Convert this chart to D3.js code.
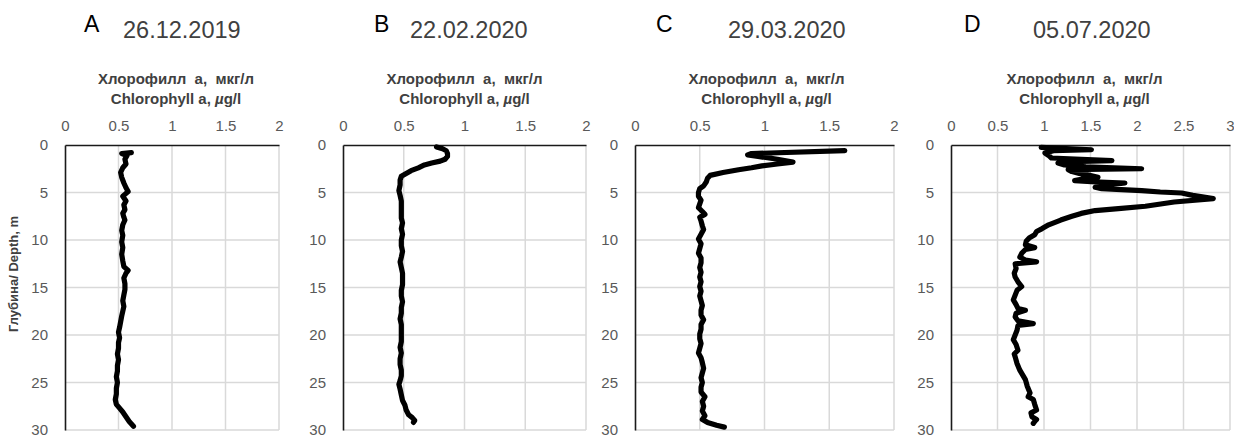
<!DOCTYPE html>
<html><head><meta charset="utf-8">
<script src="https://cdn.jsdelivr.net/npm/d3@7"></script>
<style>body{margin:0;background:#fff}svg{display:block}</style>
</head><body>
<svg id="c" width="1234" height="437"></svg>
<script>
// ---- data ----
const panelLetters = ["A", "B", "C", "D"];
const panelDates = ["26.12.2019", "22.02.2020", "29.03.2020", "05.07.2020"];
const xMaxes = [2, 2, 2, 3];
const xTicksAB = [0, 0.5, 1, 1.5, 2];
const xTicksD = [0, 0.5, 1, 1.5, 2, 2.5, 3];
const depthTicks = [0, 5, 10, 15, 20, 25, 30];
const xTitleRu = "Хлорофилл  а,  мкг/л";
const yTitle = "Глубина/ Depth, m";

const depthA = [0.8,0.9,1.1,1.5,2.0,2.4,2.9,3.4,4.0,4.5,4.9,5.2,5.4,5.9,6.3,6.8,7.2,7.6,7.9,8.4,9.0,9.5,10.2,10.8,11.5,12.2,12.8,13.2,13.5,14.0,14.6,15.2,15.8,16.4,17.0,17.5,18.0,18.6,19.2,19.7,20.3,20.8,21.4,22.0,22.6,23.2,23.8,24.4,25.0,25.6,26.2,26.8,27.3,27.7,28.1,28.6,29.1,29.6];
const chlA   = [0.62,0.53,0.58,0.56,0.57,0.54,0.52,0.53,0.55,0.57,0.59,0.56,0.54,0.57,0.55,0.56,0.54,0.55,0.56,0.54,0.53,0.54,0.53,0.54,0.53,0.54,0.55,0.59,0.57,0.55,0.56,0.56,0.55,0.54,0.55,0.54,0.53,0.52,0.51,0.50,0.51,0.50,0.50,0.49,0.50,0.49,0.49,0.48,0.49,0.48,0.48,0.47,0.48,0.51,0.54,0.57,0.60,0.64];

const depthB = [0.2,0.4,0.6,0.9,1.2,1.5,1.7,1.9,2.1,2.4,2.7,3.0,3.3,3.7,4.2,4.8,5.3,5.9,6.5,7.1,7.7,8.2,8.8,9.4,10.0,10.6,11.2,11.8,12.3,12.9,13.5,14.1,14.7,15.3,15.9,16.5,17.1,17.7,18.3,18.9,19.5,20.1,20.7,21.3,21.9,22.5,23.1,23.7,24.3,24.8,25.2,25.7,26.3,26.9,27.4,27.9,28.4,28.7,29.0,29.2];
const chlB   = [0.77,0.82,0.85,0.86,0.86,0.84,0.80,0.73,0.67,0.62,0.56,0.52,0.48,0.47,0.47,0.46,0.47,0.48,0.48,0.48,0.48,0.49,0.48,0.49,0.48,0.48,0.49,0.48,0.47,0.48,0.49,0.49,0.49,0.48,0.48,0.49,0.48,0.48,0.47,0.48,0.48,0.48,0.48,0.47,0.48,0.47,0.47,0.48,0.48,0.47,0.46,0.47,0.48,0.49,0.51,0.52,0.54,0.57,0.59,0.58];

const depthC = [0.6,0.9,1.05,1.2,1.5,1.8,2.0,2.2,2.4,2.6,2.9,3.2,3.5,3.9,4.3,4.6,5.0,5.4,5.8,6.2,6.6,7.0,7.3,7.6,8.0,8.5,8.9,9.4,9.9,10.4,10.9,11.4,11.9,12.4,12.9,13.4,13.9,14.4,14.9,15.4,15.9,16.4,16.9,17.4,17.9,18.4,18.9,19.4,19.9,20.4,20.9,21.4,21.9,22.4,22.9,23.5,24.0,24.5,25.0,25.5,26.0,26.5,27.0,27.5,28.0,28.5,28.9,29.2,29.5,29.7];
const chlC   = [1.62,0.90,0.87,0.95,1.10,1.22,1.10,0.98,0.90,0.80,0.68,0.58,0.56,0.55,0.53,0.50,0.49,0.49,0.51,0.50,0.49,0.52,0.54,0.50,0.51,0.52,0.53,0.51,0.49,0.51,0.50,0.49,0.51,0.51,0.50,0.51,0.50,0.51,0.50,0.51,0.50,0.51,0.52,0.51,0.51,0.53,0.51,0.51,0.50,0.50,0.51,0.50,0.49,0.51,0.52,0.53,0.52,0.51,0.52,0.51,0.51,0.54,0.52,0.53,0.52,0.54,0.52,0.56,0.63,0.69];

const depthD = [0.25,0.5,0.6,0.85,1.1,1.37,1.5,1.65,1.75,1.9,2.1,2.3,2.5,2.6,2.8,3.0,3.2,3.4,3.6,3.75,3.9,4.0,4.2,4.45,4.6,4.8,4.95,5.05,5.3,5.65,6.0,6.45,6.7,6.9,7.2,7.5,7.9,8.4,8.8,9.1,9.45,9.8,10.1,10.5,10.8,11.0,11.4,11.8,12.1,12.3,12.5,13.0,13.5,13.9,14.4,14.9,15.3,15.8,16.3,16.8,17.2,17.4,17.7,18.1,18.5,18.8,19.0,19.5,20.0,20.5,21.0,21.6,22.0,22.3,23.0,23.7,24.2,24.7,25.4,26.1,26.5,26.8,27.3,27.9,28.2,28.6,28.9,29.1,29.3];
const chlD   = [0.97,1.51,1.10,1.01,1.05,1.08,1.40,1.73,1.30,1.15,1.22,1.45,2.05,1.26,1.30,1.38,1.50,1.58,1.40,1.33,1.60,1.87,1.70,1.55,1.62,2.05,2.25,2.48,2.60,2.82,2.40,2.09,1.80,1.55,1.40,1.30,1.18,1.05,0.98,0.92,0.90,0.84,0.81,0.80,0.90,0.80,0.76,0.74,0.80,0.92,0.69,0.70,0.68,0.69,0.72,0.76,0.71,0.69,0.67,0.70,0.72,0.80,0.70,0.69,0.72,0.885,0.72,0.71,0.69,0.67,0.70,0.72,0.68,0.69,0.71,0.74,0.77,0.80,0.82,0.85,0.83,0.885,0.90,0.92,0.86,0.87,0.92,0.90,0.885];

// ---- layout ----
const depths = [depthA, depthB, depthC, depthD];
const chls = [chlA, chlB, chlC, chlD];
const xTicksAll = [xTicksAB, xTicksAB, xTicksAB, xTicksD];
const plotL = [65, 343, 635, 951];
const plotR = [279, 586, 894, 1230];
const plotT = 145, plotB = 430;
const letterX = [84, 374, 656, 964];
const dateX = [123, 410, 728, 1033];
const titleShift = [4, 0, 2, -6];

const svg = d3.select("#c");
const FONT = "'Liberation Sans', Arial, sans-serif";
const fmt = v => String(v);

for (let i = 0; i < 4; i++) {
  const g = svg.append("g");
  const x = d3.scaleLinear().domain([0, xMaxes[i]]).range([plotL[i], plotR[i]]);
  const y = d3.scaleLinear().domain([0, 30]).range([plotT, plotB]);
  const cx = (plotL[i] + plotR[i]) / 2 + titleShift[i];

  // grid
  g.append("g").selectAll("line").data(xTicksAll[i].slice(1)).join("line")
    .attr("x1", d => x(d)).attr("x2", d => x(d)).attr("y1", plotT).attr("y2", plotB)
    .attr("stroke", "#d9d9d9").attr("stroke-width", 1.5);
  g.append("g").selectAll("line").data(depthTicks.slice(1)).join("line")
    .attr("y1", d => y(d)).attr("y2", d => y(d)).attr("x1", plotL[i]).attr("x2", plotR[i])
    .attr("stroke", "#d9d9d9").attr("stroke-width", 1.5);

  // axes (top and left)
  const xAxis = d3.axisTop(x).tickValues(xTicksAll[i]).tickSize(0).tickPadding(14).tickFormat(fmt);
  const ax = g.append("g").attr("transform", `translate(0,${plotT})`).call(xAxis);
  const yAxis = d3.axisLeft(y).tickValues(depthTicks).tickSize(0).tickPadding(17).tickFormat(fmt);
  const ay = g.append("g").attr("transform", `translate(${plotL[i]},0)`).call(yAxis);
  [ax, ay].forEach(a => {
    a.select(".domain").attr("stroke", "#1a1a1a").attr("stroke-width", 1.6);
    a.selectAll("text").attr("font-family", FONT).attr("font-size", 15).attr("fill", "#595959");
  });

  // profile line
  const pts = depths[i].map((d, k) => [chls[i][k], d]);
  g.append("path").datum(pts)
    .attr("fill", "none").attr("stroke", "#000").attr("stroke-width", 5.2)
    .attr("stroke-linejoin", "round").attr("stroke-linecap", "round")
    .attr("d", d3.line().x(d => x(d[0])).y(d => y(d[1])));

  // titles
  g.append("text").attr("x", letterX[i]).attr("y", 32).text(panelLetters[i])
    .attr("font-family", FONT).attr("font-size", 23).attr("fill", "#000");
  g.append("text").attr("x", dateX[i]).attr("y", 38).text(panelDates[i])
    .attr("font-family", FONT).attr("font-size", 23.5).attr("fill", "#404040");

  // x-axis titles
  g.append("text").attr("x", cx).attr("y", 84).attr("text-anchor", "middle")
    .attr("font-family", FONT).attr("font-size", 15).attr("font-weight", "bold").attr("fill", "#404040")
    .style("white-space", "pre").text(xTitleRu);
  const t2 = g.append("text").attr("x", cx).attr("y", 104).attr("text-anchor", "middle")
    .attr("font-family", FONT).attr("font-size", 15).attr("font-weight", "bold").attr("fill", "#404040");
  t2.append("tspan").text("Chlorophyll a, ");
  t2.append("tspan").attr("font-style", "italic").text("µ");
  t2.append("tspan").text("g/l");
}

// y-axis title (first panel only)
svg.append("text")
  .attr("transform", "translate(18,274) rotate(-90)")
  .attr("text-anchor", "middle")
  .attr("font-family", FONT).attr("font-size", 13).attr("font-weight", "bold").attr("fill", "#404040")
  .text(yTitle);
</script>
</body></html>
